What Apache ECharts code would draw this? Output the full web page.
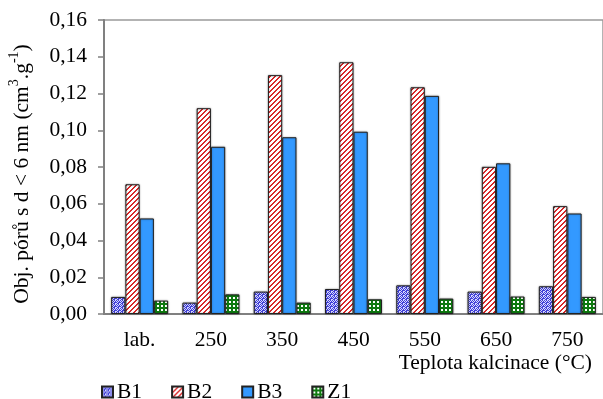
<!DOCTYPE html>
<html><head><meta charset="utf-8">
<script src="https://cdn.jsdelivr.net/npm/echarts@6/dist/echarts.min.js"></script>
<style>html,body{margin:0;padding:0;background:#fff}#c{width:603px;height:399px}</style>
</head><body><div id="c"></div>
<script>
const categories = ['lab.', '250', '350', '450', '550', '650', '750'];
const seriesNames = ['B1', 'B2', 'B3', 'Z1'];
const B1 = [0.0093, 0.0062, 0.0122, 0.0136, 0.0156, 0.0122, 0.0151];
const B2 = [0.0706, 0.1120, 0.1300, 0.1370, 0.1234, 0.0801, 0.0587];
const B3 = [0.0520, 0.0910, 0.0962, 0.0992, 0.1187, 0.0820, 0.0547];
const Z1 = [0.0073, 0.0107, 0.0062, 0.0080, 0.0084, 0.0095, 0.0093];
const yTicks = [0, 0.16, 0.02];

function pat(w, h, draw) {
  const c = document.createElement('canvas');
  c.width = w; c.height = h;
  const ctx = c.getContext('2d');
  draw(ctx, w, h);
  return { image: c, repeat: 'repeat' };
}
const pB1 = pat(4, 4, (ctx) => {
  ctx.fillStyle = '#d8d8ff'; ctx.fillRect(0, 0, 4, 4);
  ctx.fillStyle = '#4040d8';
  [[0,0],[2,0],[1,1],[3,1],[0,2],[3,2],[1,3],[2,3],[2,2]].forEach(p => ctx.fillRect(p[0], p[1], 1, 1));
});
const pB2 = pat(5, 5, (ctx) => {
  ctx.fillStyle = '#ffffff'; ctx.fillRect(0, 0, 5, 5);
  ctx.fillStyle = '#d8282a';
  for (let x = 0; x < 5; x++) for (let y = 0; y < 5; y++) if ((x + y) % 5 < 2) ctx.fillRect(x, y, 1, 1);
});
const pZ1 = pat(4, 4, (ctx) => {
  ctx.fillStyle = '#0e7a10'; ctx.fillRect(0, 0, 4, 4);
  ctx.fillStyle = '#ffffff'; ctx.fillRect(1, 1, 2, 2);
});
const colors = [pB1, pB2, '#3399ff', pZ1];
const dataArr = [B1, B2, B3, Z1];

const FONT = '"Liberation Serif", "Times New Roman", serif';
const FS = 21.5;
const chart = echarts.init(document.getElementById('c'), null, { renderer: 'canvas' });
chart.setOption({
  animation: false,
  grid: { left: 104, top: 20, width: 504, height: 294, show: true, borderColor: '#9a9a9a', borderWidth: 1.5, backgroundColor: 'transparent' },
  legend: {
    left: 101, top: 381, padding: 0, icon: 'rect', itemWidth: 11, itemHeight: 11, itemGap: 29,
    textStyle: { fontFamily: FONT, fontSize: FS, color: '#000', padding: [0, 0, 0, -1] },
    data: seriesNames
  },
  graphic: [{
    type: 'text', x: 592, y: 363,
    style: { text: 'Teplota kalcinace (°C)', font: FS + 'px ' + FONT, fill: '#000', align: 'right', verticalAlign: 'middle' }
  }, {
    type: 'text', x: 20, y: 174, rotation: Math.PI / 2,
    style: {
      text: '{n|Obj. pórů s d < 6 nm (cm}{s|3}{n|.g}{s|-1}{n|)}',
      align: 'center', verticalAlign: 'middle',
      rich: {
        n: { fontFamily: FONT, fontSize: FS, fill: '#000', lineHeight: 26, verticalAlign: 'bottom' },
        s: { fontFamily: FONT, fontSize: 14, fill: '#000', lineHeight: 26, verticalAlign: 'top' }
      }
    }
  }],
  xAxis: {
    type: 'category', data: categories,
    axisLine: { lineStyle: { color: '#808080', width: 2 } },
    axisTick: { show: false },
    axisLabel: { fontFamily: FONT, fontSize: FS, color: '#000', margin: 15 }
  },
  yAxis: {
    type: 'value', min: yTicks[0], max: yTicks[1], interval: yTicks[2],
    axisLine: { show: true, lineStyle: { color: '#808080', width: 2 } },
    axisTick: { show: true, inside: false, length: 6, lineStyle: { color: '#808080', width: 1.5 } },
    splitLine: { show: false },
    axisLabel: {
      fontFamily: FONT, fontSize: FS, color: '#000', margin: 17,
      formatter: v => v.toFixed(2).replace('.', ',')
    }
  },
  series: seriesNames.map((n, i) => ({
    name: n, type: 'bar', data: dataArr[i],
    barGap: '0%', barCategoryGap: '20%',
    itemStyle: { color: colors[i], borderColor: '#222', borderWidth: 1, shadowBlur: 2, shadowColor: 'rgba(0,0,0,0.35)' }
  }))
});
</script></body></html>
